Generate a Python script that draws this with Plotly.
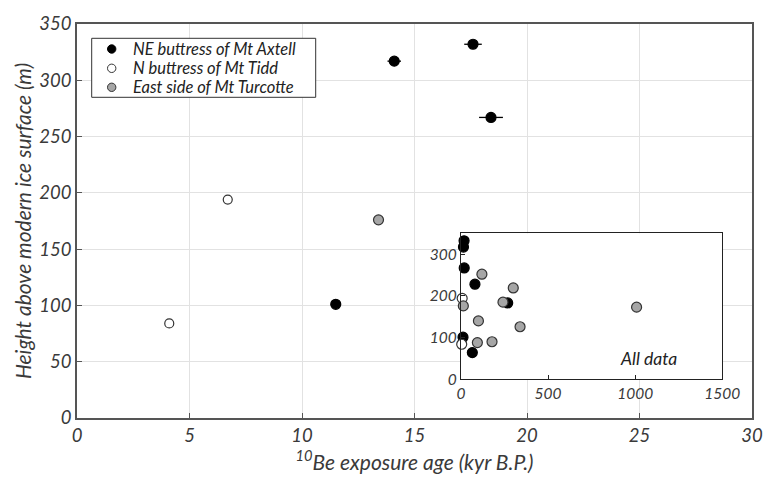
import plotly.graph_objects as go

# Data (x: 10Be exposure age, kyr B.P.; y: height above modern ice surface, m)
axtell_x = [11.5, 14.1, 17.6, 18.4, 65, 80, 268]
axtell_y = [101, 317, 332, 267, 64, 228, 183]
axtell_err = [0.15, 0.3, 0.39, 0.53, 3, 4, 12]

tidd_x = [4.1, 6.7]
tidd_y = [84, 194]

turcotte_x = [13.4, 100, 94, 178, 120, 241, 300, 339, 1008]
turcotte_y = [176, 140, 88, 90, 252, 185, 219, 126, 173]

main_xticks = [0, 5, 10, 15, 20, 25, 30]
main_yticks = [0, 50, 100, 150, 200, 250, 300, 350]
inset_xticks = [0, 500, 1000, 1500]
inset_yticks = [0, 100, 200, 300]

FONT = "Lato"
TXT = "#3a3a3a"
AX = "#555555"

W, H = 765, 477
ML, MR, MT, MB = 77, 13, 24, 59
PW, PH = W - ML - MR, H - MT - MB


def px(xp):
    return (xp - ML) / PW


def py(yp):
    return (H - MB - yp) / PH


fig = go.Figure()

series = [
    ("NE buttress of Mt Axtell", axtell_x, axtell_y, axtell_err, "black", "black", 10),
    ("N buttress of Mt Tidd", tidd_x, tidd_y, None, "white", "#333333", 9),
    ("East side of Mt Turcotte", turcotte_x, turcotte_y, None, "#a6a6a6", "#333333", 10),
]

for name, xs, ys, err, fill, line, size in series:
    ex = dict(type="data", array=err, color="black", thickness=1.3, width=0) if err else None
    fig.add_trace(go.Scatter(
        x=xs, y=ys, mode="markers", name=name,
        marker=dict(color=fill, size=size, line=dict(color=line, width=1.2)),
        error_x=ex, xaxis="x", yaxis="y", showlegend=False,
    ))

for name, xs, ys, err, fill, line, size in series:
    fig.add_trace(go.Scatter(
        x=xs, y=ys, mode="markers", name=name,
        marker=dict(color=fill, size=10, line=dict(color=line, width=1.2)),
        xaxis="x2", yaxis="y2", showlegend=False, cliponaxis=False,
    ))

tickfont = dict(family=FONT, size=18.5, color=TXT, style="italic")
inset_font = dict(family=FONT, size=15.5, color=TXT, style="italic")
titlefont = dict(family=FONT, size=21, color=TXT, style="italic")

# manual legend (box, keys, labels)
shapes = [dict(type="rect", xref="paper", yref="paper",
               x0=px(91.7), x1=px(315.7), y0=py(97.3), y1=py(38.3),
               line=dict(color="#333333", width=1), fillcolor="white", layer="above")]
annotations = []
leg_rows = [49, 68.3, 87.3]
for (name, xs, ys, err, fill, line, size), yrow in zip(series, leg_rows):
    shapes.append(dict(type="circle", xref="paper", yref="paper",
                       xsizemode="pixel", ysizemode="pixel",
                       xanchor=px(111.7), yanchor=py(yrow),
                       x0=-4.2, x1=4.2, y0=-4.2, y1=4.2,
                       fillcolor=fill, line=dict(color=line, width=1), layer="above"))
    annotations.append(dict(text=name, xref="paper", yref="paper",
                            x=px(131), y=py(yrow), xanchor="left", yanchor="middle",
                            showarrow=False,
                            font=dict(family=FONT, size=16.5, color="#222222", style="italic")))

annotations.append(dict(
    text="All data", xref="x2", yref="y2", x=1075, y=50,
    xanchor="center", yanchor="middle", showarrow=False,
    font=dict(family=FONT, size=17.5, color="#222222", style="italic"),
))

fig.update_layout(
    width=W, height=H,
    margin=dict(l=ML, r=MR, t=MT, b=MB),
    paper_bgcolor="white", plot_bgcolor="white",
    showlegend=False,
    xaxis=dict(
        range=[0, 30], tickvals=main_xticks, ticktext=[str(v) for v in main_xticks],
        showgrid=True, gridcolor="#e2e2e2", gridwidth=1, zeroline=False,
        showline=True, linecolor=AX, linewidth=1.5, mirror=True,
        ticks="inside", ticklen=5, tickcolor=AX,
        tickfont=tickfont, automargin=False,
        title=dict(text="<sup>10</sup>Be exposure age (kyr B.P.)",
                   font=titlefont, standoff=0),
        domain=[0, 1],
    ),
    yaxis=dict(
        range=[0, 350], tickvals=main_yticks, ticktext=[str(v) for v in main_yticks],
        showgrid=True, gridcolor="#e2e2e2", gridwidth=1, zeroline=False,
        showline=True, linecolor=AX, linewidth=1.5, mirror=True,
        ticks="inside", ticklen=5, tickcolor=AX,
        tickfont=tickfont, automargin=False,
        title=dict(text="Height above modern ice surface (m)",
                   font=titlefont, standoff=2),
        domain=[0, 1],
    ),
    xaxis2=dict(
        anchor="y2", domain=[px(461), px(722.3)], range=[0, 1500],
        tickvals=inset_xticks, ticktext=[str(v) for v in inset_xticks],
        showgrid=False, zeroline=False,
        showline=True, linecolor="#222222", linewidth=1.2, mirror=True,
        ticks="inside", ticklen=4, tickcolor="#222222",
        tickfont=inset_font, automargin=False,
    ),
    yaxis2=dict(
        anchor="x2", domain=[py(379.3), py(233.3)], range=[0, 350],
        tickvals=inset_yticks, ticktext=[str(v) for v in inset_yticks],
        showgrid=False, zeroline=False,
        showline=True, linecolor="#222222", linewidth=1.2, mirror=True,
        ticks="inside", ticklen=4, tickcolor="#222222",
        tickfont=inset_font, automargin=False,
    ),
    shapes=shapes,
    annotations=annotations,
)

fig.write_html("out.html")
